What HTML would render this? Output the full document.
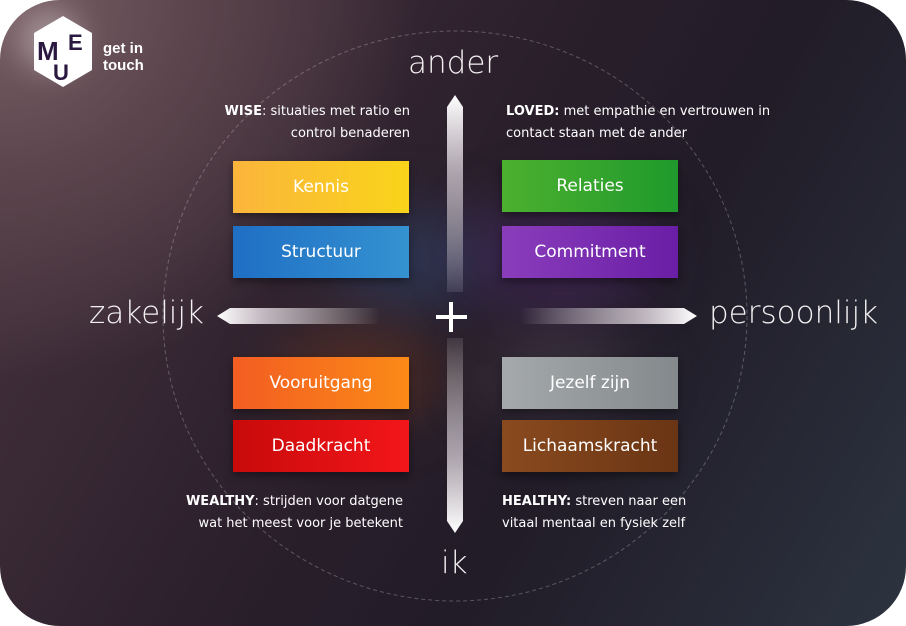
<!DOCTYPE html>
<html><head><style>
body{margin:0;width:906px;height:626px;background:#fff;overflow:hidden;font-family:"Liberation Sans","DejaVu Sans",sans-serif}
#c{position:absolute;left:0;top:0;width:906px;height:626px;border-radius:60px;overflow:hidden;
background:radial-gradient(ellipse 420px 380px at 0px 0px,#7a6167 0%,#5c454d 45%,rgba(40,30,40,0) 100%),
linear-gradient(120deg,#4a3540 0%,#2a1f2b 45%,#211c28 65%,#2c3440 100%);}
.glow{position:absolute;border-radius:50%;filter:blur(30px)}
.box{position:absolute;width:176px;height:52px;color:#fff;font-size:17px;font-family:"DejaVu Sans",sans-serif;display:flex;align-items:center;justify-content:center;box-shadow:0 4px 8px rgba(0,0,0,.4)}
.t{position:absolute;color:#fff;font-size:13px;line-height:22px;font-family:"DejaVu Sans",sans-serif}
.big{position:absolute;color:#f4f0f2;font-size:31px;font-family:"DejaVu Sans",sans-serif;font-weight:200;letter-spacing:0px}
</style></head><body>
<div id="c">
<div class="glow" style="left:330px;top:210px;width:160px;height:100px;background:rgba(50,70,110,.55)"></div>
<div class="glow" style="left:470px;top:200px;width:180px;height:110px;background:rgba(80,40,110,.5)"></div>
<div class="glow" style="left:280px;top:330px;width:160px;height:90px;background:rgba(120,60,30,.5)"></div>
<div class="glow" style="left:480px;top:330px;width:160px;height:90px;background:rgba(90,80,90,.4)"></div>
<div class="glow" style="left:20px;top:10px;width:60px;height:60px;background:rgba(255,255,255,.35);filter:blur(15px)"></div>
<svg width="906" height="626" style="position:absolute;left:0;top:0">
<defs>
<linearGradient id="gl" x1="0" x2="1"><stop offset="0" stop-color="#fff"/><stop offset=".3" stop-color="#d8cfd6" stop-opacity=".85"/><stop offset="1" stop-color="#fff" stop-opacity="0"/></linearGradient>
<linearGradient id="gr" x1="1" x2="0"><stop offset="0" stop-color="#fff"/><stop offset=".3" stop-color="#d8cfd6" stop-opacity=".85"/><stop offset="1" stop-color="#fff" stop-opacity="0"/></linearGradient>
<linearGradient id="gt" x1="0" y1="0" x2="0" y2="1"><stop offset="0" stop-color="#fff"/><stop offset=".4" stop-color="#ccc3cb" stop-opacity=".8"/><stop offset="1" stop-color="#fff" stop-opacity="0.1"/></linearGradient>
<linearGradient id="gb" x1="0" y1="1" x2="0" y2="0"><stop offset="0" stop-color="#fff"/><stop offset=".4" stop-color="#ccc3cb" stop-opacity=".8"/><stop offset="1" stop-color="#fff" stop-opacity="0.1"/></linearGradient>
</defs>
<ellipse cx="455" cy="316" rx="292" ry="285" fill="none" stroke="rgba(255,255,255,.25)" stroke-width="1" stroke-dasharray="4 3"/>
<polygon points="217,316 230,308 380,308 380,324 230,324" fill="url(#gl)"/>
<polygon points="697,316 684,308 520,308 520,324 684,324" fill="url(#gr)"/>
<polygon points="455,95 463,107 463,292 447,292 447,107" fill="url(#gt)"/>
<polygon points="455,533 463,521 463,338 447,338 447,521" fill="url(#gb)"/>
<rect x="449" y="302" width="4" height="30" fill="#fff"/><rect x="436" y="315" width="31" height="4" fill="#fff"/>
<polygon points="63,16 92,33 92,70 63,87 34,70 34,33" fill="#fff"/>
<text x="37" y="60" font-size="26" font-weight="bold" fill="#2a1840" font-family="Liberation Sans">M</text>
<text x="68" y="50" font-size="22" font-weight="bold" fill="#2a1840" font-family="Liberation Sans">E</text>
<text x="53" y="80" font-size="22" font-weight="bold" fill="#2a1840" font-family="Liberation Sans">U</text>
</svg>
<div class="t" style="left:103px;top:40px;font-size:15px;line-height:17px;font-weight:bold;font-family:'Liberation Sans',sans-serif">get in<br>touch</div>
<div class="big" style="left:408px;top:45px">ander</div>
<div class="big" style="left:441px;top:545px">ik</div>
<div class="big" style="left:89px;top:295px">zakelijk</div>
<div class="big" style="left:709px;top:295px">persoonlijk</div>
<div class="t" style="left:190px;top:101px;width:220px;text-align:right"><b>WISE</b>: situaties met ratio en<br>control benaderen</div>
<div class="t" style="left:506px;top:101px"><b>LOVED:</b> met empathie en vertrouwen in<br>contact staan met de ander</div>
<div class="t" style="left:150px;top:491px;width:253px;text-align:right"><b>WEALTHY</b>: strijden voor datgene<br>wat het meest voor je betekent</div>
<div class="t" style="left:502px;top:491px"><b>HEALTHY:</b> streven naar een<br>vitaal mentaal en fysiek zelf</div>
<div class="box" style="left:233px;top:161px;background:linear-gradient(90deg,#fbb53c,#f9d41a)">Kennis</div>
<div class="box" style="left:233px;top:226px;background:linear-gradient(90deg,#1f6fc4,#3592d1)">Structuur</div>
<div class="box" style="left:233px;top:357px;background:linear-gradient(90deg,#f35d22,#fb8a17)">Vooruitgang</div>
<div class="box" style="left:233px;top:420px;background:linear-gradient(90deg,#c80a0a,#f3161a)">Daadkracht</div>
<div class="box" style="left:502px;top:160px;background:linear-gradient(90deg,#4cb02e,#1f9a2c)">Relaties</div>
<div class="box" style="left:502px;top:226px;background:linear-gradient(90deg,#8a3dbb,#6a1ea6)">Commitment</div>
<div class="box" style="left:502px;top:357px;background:linear-gradient(90deg,#a5a9ab,#84898c)">Jezelf zijn</div>
<div class="box" style="left:502px;top:420px;background:linear-gradient(90deg,#8a4a1f,#6a3514)">Lichaamskracht</div>
</div>
</body></html>
